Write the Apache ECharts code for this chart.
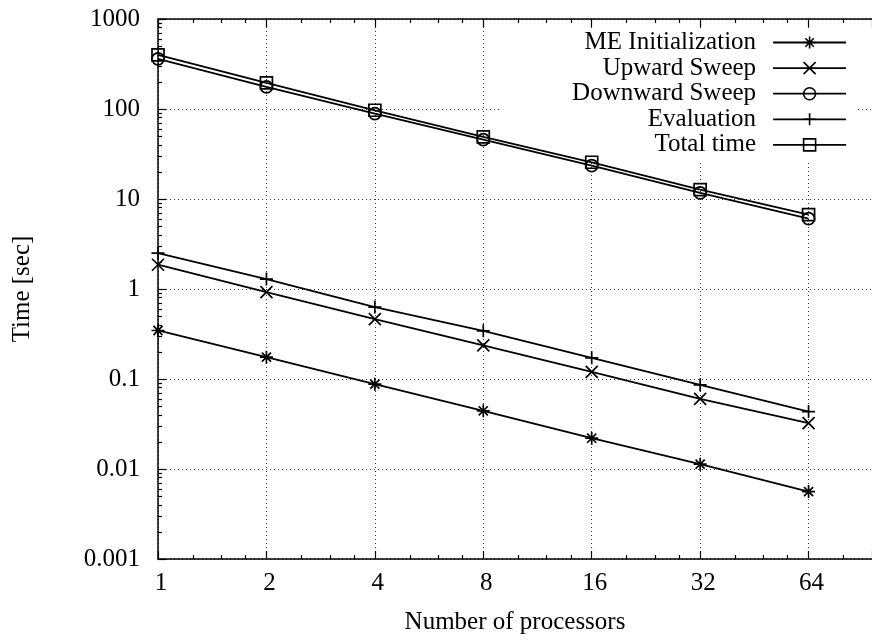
<!DOCTYPE html>
<html><head><meta charset="utf-8">
<script src="https://cdn.jsdelivr.net/npm/echarts@6/dist/echarts.min.js"></script>
<style>html,body{margin:0;padding:0;background:#fff}#c{width:872px;height:640px}</style>
</head><body><div id="c"></div>
<script>
// ---- data ----
const processors = [1, 2, 4, 8, 16, 32, 64];
const meInit     = [0.346, 0.175, 0.0877, 0.0443, 0.0220, 0.0113, 0.00561];
const upward     = [1.86, 0.925, 0.463, 0.236, 0.120, 0.0602, 0.0323];
const downward   = [361, 176, 89, 45.7, 23.5, 11.7, 6.04];
const evaluation = [2.51, 1.29, 0.630, 0.343, 0.172, 0.0861, 0.0435];
const totalTime  = [400, 195, 96.8, 49.0, 25.6, 12.7, 6.70];
const seriesNames = ['ME Initialization', 'Upward Sweep', 'Downward Sweep', 'Evaluation', 'Total time'];
const xTitle = 'Number of processors';
const yTitle = 'Time [sec]';

// ---- styling ----
const FONT = "'Liberation Serif', 'Times New Roman', serif";
const SYM = {
  star:  'path://M6,0V12M0,6H12M1.8,1.8L10.2,10.2M10.2,1.8L1.8,10.2',
  cross: 'path://M0,0L12,12M12,0L0,12',
  circle: 'circle',
  plus:  'path://M6,0V12M0,6H12',
  square: 'rect'
};
const symbolsBySeries = [SYM.star, SYM.cross, SYM.circle, SYM.plus, SYM.square];
const sizesBySeries = [13, 12, 12, 13, 12];
const valuesBySeries = [meInit, upward, downward, evaluation, totalTime];

const chart = echarts.init(document.getElementById('c'), null, {renderer: 'canvas'});

const series = seriesNames.map((name, i) => ({
  name,
  type: 'line',
  z: 3,
  xAxisIndex: 0,
  yAxisIndex: 0,
  data: processors.map((p, j) => [p, valuesBySeries[i][j]]),
  symbol: symbolsBySeries[i],
  symbolSize: sizesBySeries[i],
  showAllSymbol: true,
  lineStyle: {color: '#000', width: 1.8},
  itemStyle: {color: 'none', borderColor: '#000', borderWidth: 1.7},
  emphasis: {disabled: true},
  animation: false
}));

const xBase = {
  type: 'log',
  logBase: 2,
  min: 1,
  max: 96,
  gridIndex: 0
};

chart.setOption({
  backgroundColor: '#fff',
  animation: false,
  textStyle: {fontFamily: FONT, color: '#000'},
  grid: {left: 158, right: 0, top: 19, bottom: 81, containLabel: false},
  legend: {
    show: true,
    z: 1,
    orient: 'vertical',
    align: 'right',
    right: 15,
    top: 28,
    padding: [2, 10, 3, 70],
    backgroundColor: '#fff',
    itemWidth: 73,
    itemHeight: 15,
    itemGap: 0.6,
    selectedMode: false,
    data: seriesNames,
    textStyle: {fontFamily: FONT, fontSize: 25, color: '#000', lineHeight: 25, padding: [0, 12, 0, 0]},
    lineStyle: {width: 1.8, color: '#000'},
    itemStyle: {borderWidth: 1.6, borderColor: '#000'}
  },
  xAxis: [
    Object.assign({}, xBase, {
      position: 'bottom',
      name: xTitle,
      nameLocation: 'middle',
      nameGap: 51,
      nameTextStyle: {fontFamily: FONT, fontSize: 25, color: '#000'},
      axisLine: {show: true, onZero: false, lineStyle: {color: '#000', width: 1.5}},
      axisTick: {show: true, inside: true, length: 8, lineStyle: {color: '#000', width: 1.2}},
      minorTick: {show: true, splitNumber: 4, length: 4, lineStyle: {color: '#000', width: 1.2}},
      axisLabel: {
        fontFamily: FONT, fontSize: 25, color: '#000', margin: 12,
        padding: [0, 0, 0, 6], showMaxLabel: false,
        formatter: v => (processors.indexOf(Math.round(v)) >= 0 && Math.abs(v - Math.round(v)) < 1e-6) ? String(Math.round(v)) : ''
      },
      splitLine: {show: true, lineStyle: {color: '#333', width: 1, type: [1, 3]}}
    }),
    Object.assign({}, xBase, {
      position: 'top',
      axisLine: {show: true, onZero: false, lineStyle: {color: '#000', width: 1.5}},
      axisTick: {show: true, inside: true, length: 8, lineStyle: {color: '#000', width: 1.2}},
      minorTick: {show: true, splitNumber: 4, length: 4, lineStyle: {color: '#000', width: 1.2}},
      axisLabel: {show: false},
      splitLine: {show: false}
    })
  ],
  yAxis: [{
    type: 'log',
    logBase: 10,
    min: 0.001,
    max: 1000,
    position: 'left',
    name: yTitle,
    nameLocation: 'middle',
    nameGap: 123,
    nameRotate: 90,
    nameTextStyle: {fontFamily: FONT, fontSize: 25, color: '#000'},
    axisLine: {show: true, onZero: false, lineStyle: {color: '#000', width: 1.5}},
    axisTick: {show: true, inside: true, length: 8, lineStyle: {color: '#000', width: 1.2}},
    minorTick: {show: true, splitNumber: 9, length: 4, lineStyle: {color: '#000', width: 1.2}},
    axisLabel: {
      fontFamily: FONT, fontSize: 25, color: '#000', margin: 18,
      formatter: v => String(parseFloat(Number(v).toPrecision(6)))
    },
    splitLine: {show: true, lineStyle: {color: '#333', width: 1, type: [1, 3]}}
  }],
  series
});
</script>
</body></html>
